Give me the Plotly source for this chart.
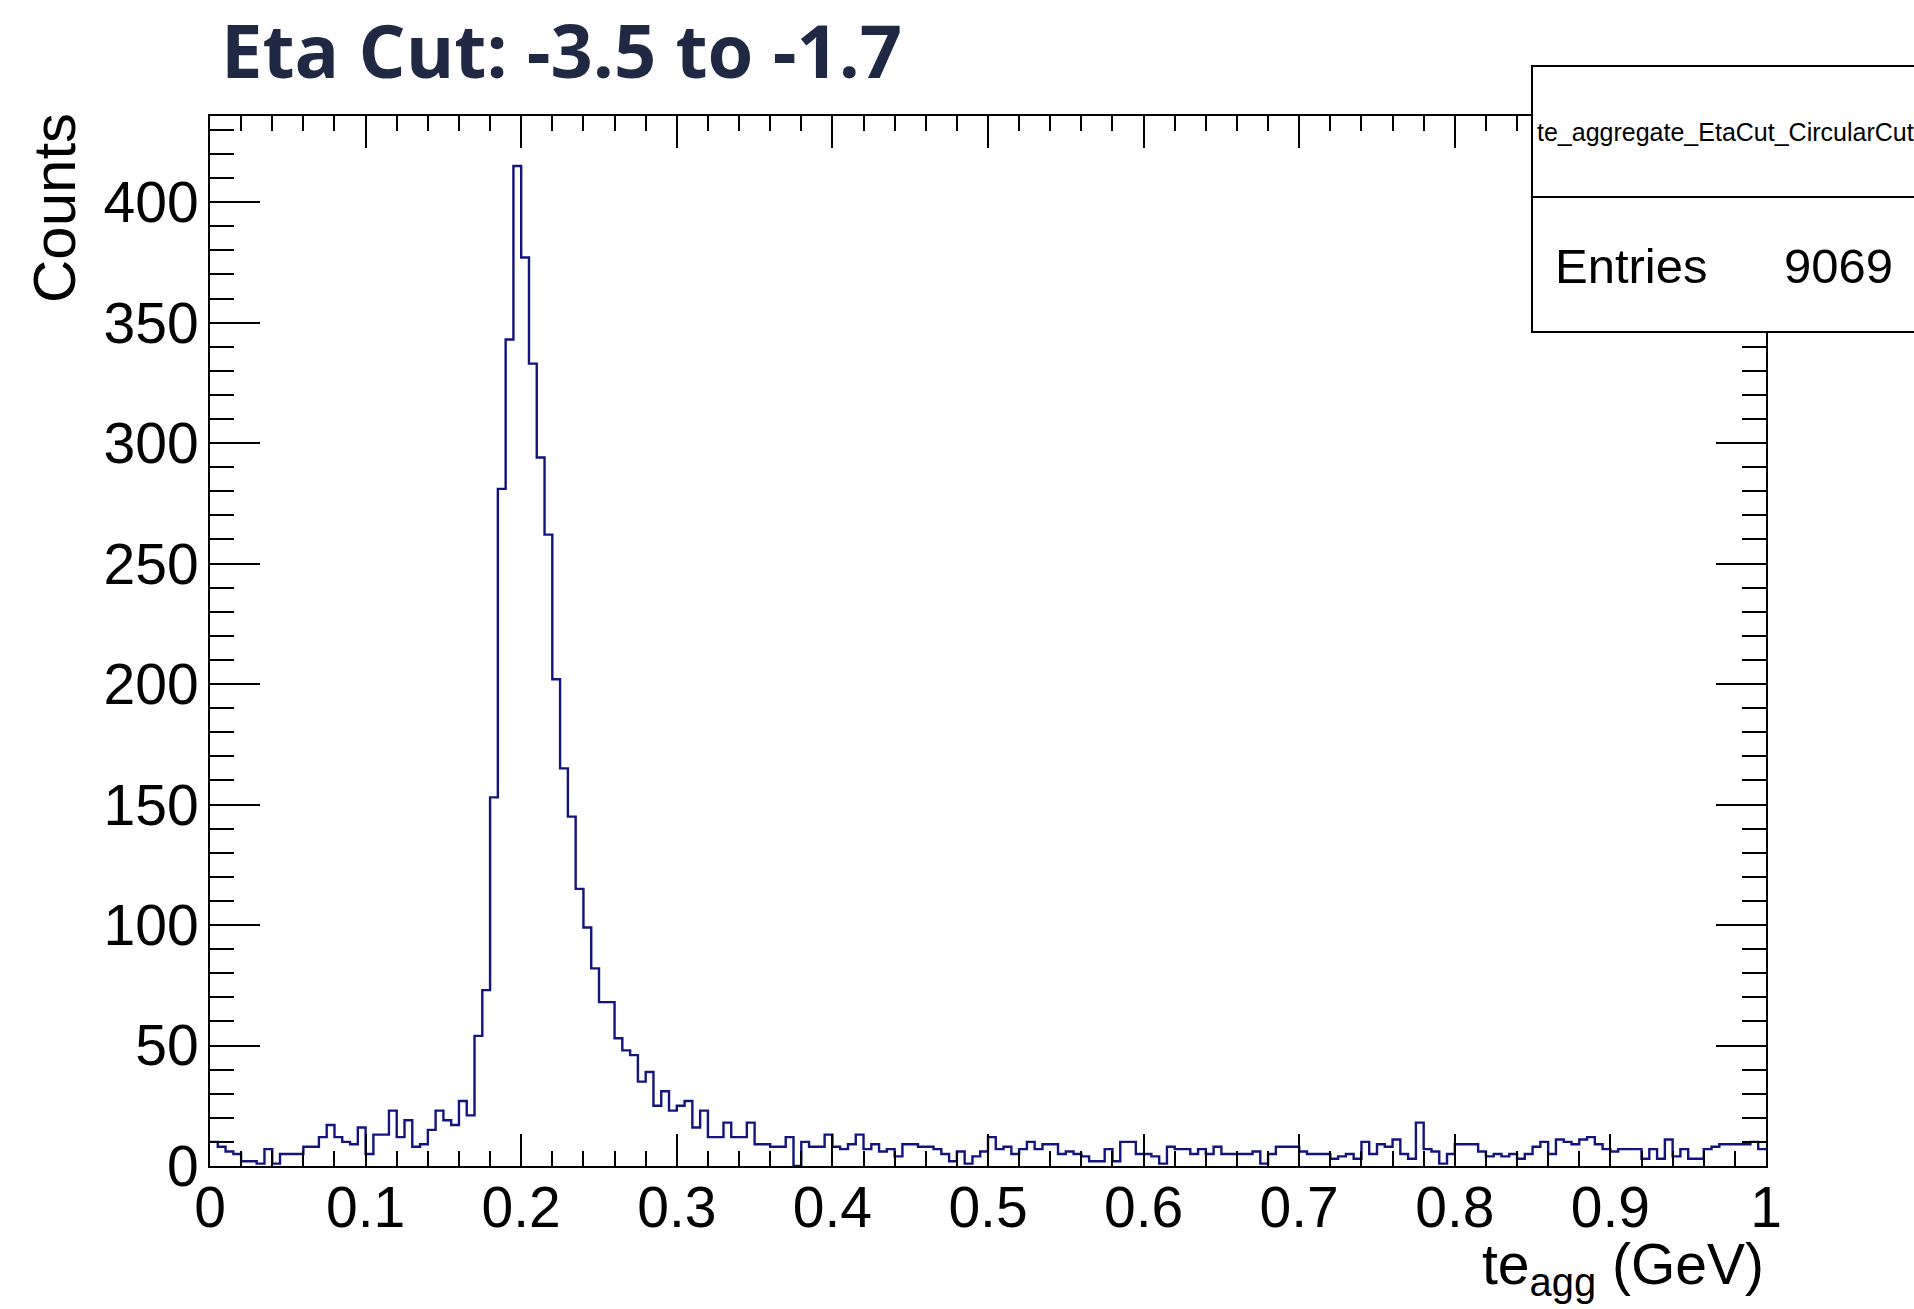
import numpy as np
import plotly.graph_objects as go

# ---- histogram definition: te_aggregate, 200 bins on [0, 1] GeV ----
x_min, x_max, n_bins = 0.0, 1.0, 200

# bin contents, split by region of the spectrum
counts_low = [10, 8, 6, 5, 2, 2, 1, 7, 1, 5,
              5, 5, 8, 8, 12, 17, 12, 10, 9, 16,
              5, 13, 13, 23, 12, 19, 8, 9, 15, 23,
              19, 17, 27, 21]
counts_peak = [54, 73, 153, 281, 343, 415, 377, 333, 294, 262,
               202, 165, 145, 115, 99, 82, 68, 68, 53, 48,
               46, 35, 39, 25, 31, 23, 25, 27, 16, 23]
counts_tail = [12, 12, 18, 12, 12, 18, 9, 9, 8, 8,
               12, 0, 10, 8, 8, 13, 8, 7, 9, 13,
               7, 9, 6, 7, 4, 9, 9, 8, 8, 7,
               5, 2, 6, 1, 4, 6, 12, 7, 8, 5,
               7, 10, 7, 9, 9, 5, 6, 5, 4, 2,
               2, 7, 2, 10, 10, 5, 5, 4, 1, 8,
               7, 7, 5, 7, 5, 8, 5, 5, 5, 5,
               6, 1, 5, 8, 8, 8, 6, 5, 5, 5,
               3, 4, 5, 3, 10, 5, 9, 8, 11, 5,
               3, 18, 7, 6, 1, 5, 9, 9, 9, 6,
               4, 5, 4, 5, 3, 5, 8, 10, 5, 11,
               10, 9, 11, 12, 9, 7, 6, 7, 7, 7,
               3, 7, 3, 11, 4, 7, 3, 3, 7, 8,
               9, 9, 9, 9, 10, 7]
counts = counts_low + counts_peak + counts_tail

x_ticks = [0, 0.1, 0.2, 0.3, 0.4, 0.5, 0.6, 0.7, 0.8, 0.9, 1]
x_tick_text = ["0", "0.1", "0.2", "0.3", "0.4", "0.5", "0.6", "0.7", "0.8", "0.9", "1"]
y_ticks = [0, 50, 100, 150, 200, 250, 300, 350, 400]

title_text = "Eta Cut: -3.5 to -1.7"
hist_name = "te_aggregate_EtaCut_CircularCut"
entries = 9069

# ---- page geometry (pixels) ----
W, H = 1914, 1309
PL, PR, PT, PB = 210, 1766, 116, 1166
y_max = 1.05 * max(counts)


def px(xp):
    return (xp - PL) / (PR - PL)


def py(yp):
    return (PB - yp) / (PB - PT)


edges = np.linspace(x_min, x_max, n_bins + 1)
y_step = list(counts) + [counts[-1]]

LINE = "#14147e"
HELV = "Liberation Sans, Arial, sans-serif"
AXIS_FONT = dict(family=HELV, size=57, color="black")

fig = go.Figure()
fig.add_trace(go.Scatter(
    x=edges, y=y_step, mode="lines", line_shape="hv",
    line=dict(color=LINE, width=2.4), showlegend=False, hoverinfo="skip",
))

axis_common = dict(
    showgrid=False, zeroline=False, showline=True, linecolor="black", linewidth=2,
    ticks="inside", tickcolor="black", tickwidth=2, mirror="allticks",
    tickfont=AXIS_FONT,
)
fig.update_xaxes(
    range=[x_min, x_max], tickvals=x_ticks, ticktext=x_tick_text, ticklen=32,
    minor=dict(dtick=0.02, ticks="inside", ticklen=15, tickwidth=2, tickcolor="black"),
    ticklabelstandoff=-9,
    **axis_common,
)
fig.update_yaxes(
    range=[0, y_max], tickvals=y_ticks, ticklen=50,
    minor=dict(dtick=10, ticks="inside", ticklen=24, tickwidth=2, tickcolor="black"),
    ticklabelstandoff=-2,
    **axis_common,
)

# statistics box (extends past the right edge of the page)
fig.add_shape(type="rect", xref="paper", yref="paper",
              x0=px(1532), x1=px(1960), y0=py(332), y1=py(66),
              fillcolor="white", line=dict(color="black", width=2), layer="above")
fig.add_shape(type="line", xref="paper", yref="paper",
              x0=px(1532), x1=px(1960), y0=py(197), y1=py(197),
              line=dict(color="black", width=2), layer="above")

annotations = [
    dict(text=f"<b>{title_text}</b>", x=px(219), y=py(50), xanchor="left", yanchor="middle",
         font=dict(family="Open Sans, Lato, sans-serif", size=74, color="#1f2944")),
    dict(text=hist_name, x=px(1535), y=py(132), xanchor="left", yanchor="middle",
         font=dict(family=HELV, size=25, color="black")),
    dict(text="Entries", x=px(1553), y=py(266), xanchor="left", yanchor="middle",
         font=dict(family=HELV, size=49, color="black")),
    dict(text=str(entries), x=px(1895), y=py(266), xanchor="right", yanchor="middle",
         font=dict(family=HELV, size=49, color="black")),
    dict(text="te<sub>agg</sub> (GeV)", x=px(1766), y=py(1268), xanchor="right", yanchor="middle",
         font=AXIS_FONT),
    dict(text="Counts", x=px(54), y=py(111), xanchor="center", yanchor="top", textangle=-90,
         font=dict(family=HELV, size=60, color="black")),
]
for a in annotations:
    a.update(xref="paper", yref="paper", showarrow=False)
fig.update_layout(
    annotations=annotations,
    width=W, height=H,
    margin=dict(l=PL, r=W - PR, t=PT, b=H - PB),
    paper_bgcolor="white", plot_bgcolor="white",
)

fig.write_html("out.html")
